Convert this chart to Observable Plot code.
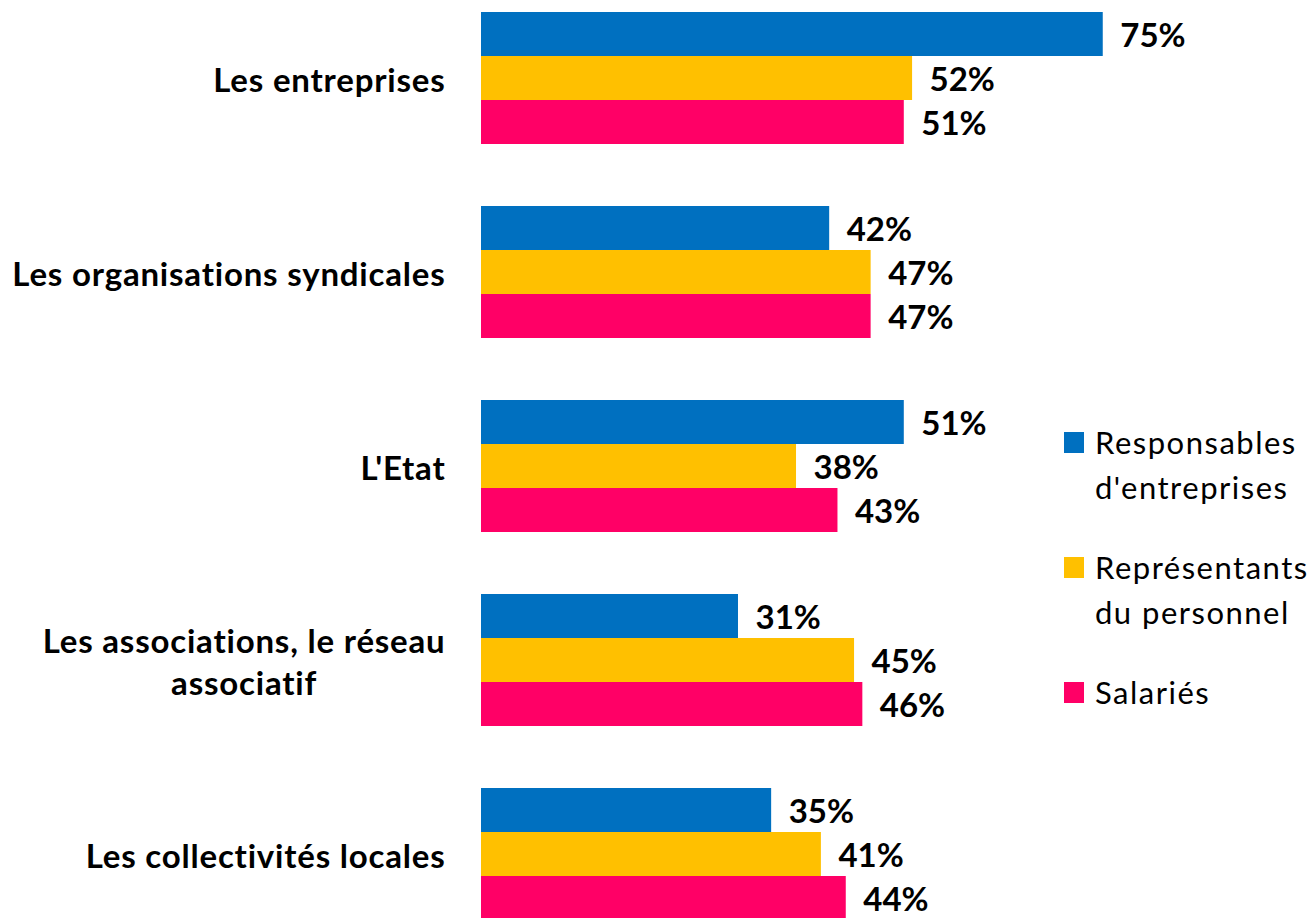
<!DOCTYPE html>
<html>
<head>
<meta charset="utf-8">
<script src="https://cdn.jsdelivr.net/npm/d3@7"></script>
<script src="https://cdn.jsdelivr.net/npm/@observablehq/plot@0.6"></script>
<style>
  html, body { margin: 0; padding: 0; background: #fff; overflow: hidden; }
  #wrap { position: relative; width: 1310px; height: 918px; }
  #legend { position: absolute; left: 1064px; top: 420px; font-family: Lato, "Open Sans", sans-serif; font-size: 31px; letter-spacing: 1.5px; color: #000; display: flex; flex-direction: column; gap: 35px; }
  .item { display: flex; flex-direction: row; align-items: flex-start; }
  .sw { width: 20px; height: 21px; margin-top: 12px; margin-right: 11px; flex: none; }
  .lbl { line-height: 45px; white-space: nowrap; }
</style>
</head>
<body>
<div id="wrap"><div id="chart"></div><div id="legend"></div></div>
<script>
const categories = ["Les entreprises", "Les organisations syndicales", "L'Etat", "Les associations, le réseau associatif", "Les collectivités locales"];
const categoryLabels = ["Les entreprises", "Les organisations syndicales", "L'Etat", "Les associations, le réseau\nassociatif", "Les collectivités locales"];
const series = ["Responsables d'entreprises", "Représentants du personnel", "Salariés"];
const legendLabels = ["Responsables\nd'entreprises", "Représentants\ndu personnel", "Salariés"];
const responsables = [75, 42, 51, 31, 35];
const representants = [52, 47, 38, 45, 41];
const salaries = [51, 47, 43, 46, 44];
const colors = ["#0070C0", "#FFC000", "#FF0066"];

const valuesBySeries = [responsables, representants, salaries];
const data = [];
categories.forEach((c, i) => {
  series.forEach((s, j) => data.push({category: c, series: s, value: valuesBySeries[j][i]}));
});
const labelOf = new Map(categories.map((c, i) => [c, categoryLabels[i]]));

const chart = Plot.plot({
  width: 1310,
  height: 920,
  marginLeft: 481,
  marginRight: 0,
  marginTop: 11,
  marginBottom: 0,
  style: {fontFamily: "Lato, 'Open Sans', sans-serif", background: "#fff", color: "#000"},
  x: {domain: [0, 100], axis: null},
  y: {domain: series, paddingInner: 0, paddingOuter: 0, axis: null},
  fy: {domain: categories, paddingInner: 0.32, paddingOuter: 0, axis: null},
  color: {domain: series, range: colors},
  marks: [
    Plot.barX(data, {x: "value", y: "series", fy: "category", fill: "series"}),
    Plot.text(data, {x: "value", y: "series", fy: "category", text: d => d.value + "%", textAnchor: "start", dx: 17, dy: 2, fontSize: 33, fontWeight: "bold", fill: "#000", style: {letterSpacing: "0.8px"}}),
    Plot.axisFy({anchor: "left", label: null, tickSize: 0, tickPadding: 36, fontSize: 33, fontWeight: "bold", lineHeight: 1.27, tickFormat: d => labelOf.get(d), fill: "#000"})
  ]
});
document.getElementById("chart").appendChild(chart);

// letter spacing on category labels, and centre the lines of multi-line labels (as in the original)
chart.querySelectorAll("g[aria-label='fy-axis tick label'] text, g[aria-label='fy-axis tick label']").forEach(el => el.style.letterSpacing = "0.8px");
chart.querySelectorAll("text").forEach(t => {
  const spans = t.querySelectorAll("tspan");
  if (spans.length > 1) {
    const w = t.getBBox().width;
    t.setAttribute("text-anchor", "middle");
    spans.forEach(s => s.setAttribute("x", -w / 2));
  }
});

const legend = document.getElementById("legend");
series.forEach((s, j) => {
  const item = document.createElement("div");
  item.className = "item";
  const sw = document.createElement("div");
  sw.className = "sw";
  sw.style.background = colors[j];
  const lbl = document.createElement("div");
  lbl.className = "lbl";
  lbl.innerHTML = legendLabels[j].split("\n").join("<br>");
  item.appendChild(sw);
  item.appendChild(lbl);
  legend.appendChild(item);
});
</script>
</body>
</html>
